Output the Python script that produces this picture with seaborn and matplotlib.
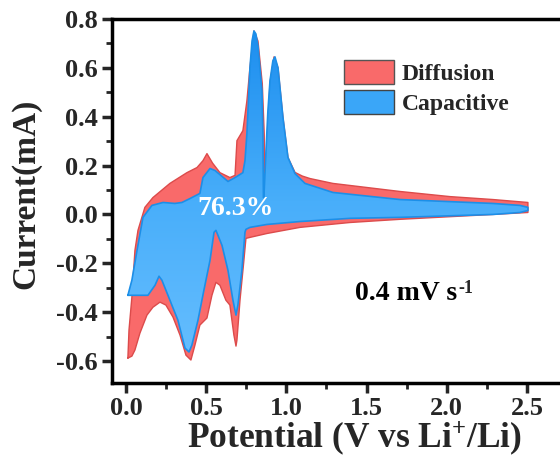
import numpy as np
import matplotlib
matplotlib.use("Agg")
import matplotlib.pyplot as plt
import seaborn as sns
from matplotlib.patches import Patch
from matplotlib.colors import LinearSegmentedColormap
from matplotlib.ticker import AutoMinorLocator, FormatStrFormatter

# ---- total CV (outer, "Diffusion" area) : anodic branch 0.01 -> 2.5 V
tot_up_v = [0.012, 0.019, 0.037, 0.056, 0.075, 0.118, 0.168, 0.274, 0.380, 0.443, 0.480, 0.505,
            0.540, 0.586, 0.648, 0.680, 0.692, 0.729, 0.754, 0.773, 0.798, 0.823, 0.850, 0.862,
            0.867, 0.879, 0.898, 0.923, 0.948, 0.979, 1.010, 1.054, 1.100, 1.147, 1.290, 1.708,
            2.020, 2.288, 2.506]
tot_up_i = [-0.588, -0.473, -0.339, -0.147, -0.065, 0.029, 0.069, 0.127, 0.171, 0.192, 0.220, 0.249,
            0.210, 0.171, 0.151, 0.160, 0.302, 0.343, 0.465, 0.600, 0.751, 0.710, 0.535, 0.330,
            0.100, 0.302, 0.540, 0.645, 0.600, 0.396, 0.233, 0.172, 0.157, 0.147, 0.127, 0.094,
            0.073, 0.061, 0.049]
# cathodic branch 2.5 -> 0.01 V
tot_dn_v = [2.506, 2.288, 1.708, 1.397, 1.085, 0.879, 0.773, 0.748, 0.735, 0.711, 0.692, 0.686,
            0.673, 0.648, 0.623, 0.586, 0.561, 0.536, 0.505, 0.461, 0.430, 0.405, 0.374, 0.337,
            0.293, 0.249, 0.212, 0.168, 0.131, 0.087, 0.056, 0.037, 0.012]
tot_dn_i = [0.008, 0.000, -0.020, -0.033, -0.053, -0.078, -0.094, -0.098, -0.190, -0.351, -0.514, -0.539,
            -0.494, -0.371, -0.351, -0.290, -0.278, -0.331, -0.424, -0.453, -0.535, -0.596, -0.576, -0.494,
            -0.420, -0.371, -0.359, -0.380, -0.412, -0.486, -0.555, -0.580, -0.588]

# ---- capacitive contribution (inner, blue)
cap_up_v = [0.012, 0.037, 0.069, 0.106, 0.162, 0.231, 0.305, 0.349, 0.399, 0.461, 0.480, 0.524,
            0.555, 0.586, 0.636, 0.680, 0.729, 0.742, 0.754, 0.773, 0.786, 0.798, 0.810, 0.823,
            0.848, 0.854, 0.857, 0.860, 0.873, 0.885, 0.898, 0.916, 0.929, 0.948, 0.979, 1.010,
            1.054, 1.116, 1.290, 1.708, 2.288, 2.456, 2.506]
cap_up_i = [-0.331, -0.269, -0.147, -0.012, 0.037, 0.049, 0.045, 0.049, 0.065, 0.086, 0.151, 0.188,
            0.180, 0.163, 0.135, 0.151, 0.171, 0.220, 0.331, 0.600, 0.710, 0.751, 0.739, 0.690,
            0.506, 0.331, 0.069, 0.069, 0.261, 0.424, 0.547, 0.629, 0.645, 0.600, 0.396, 0.233,
            0.167, 0.127, 0.090, 0.061, 0.045, 0.037, 0.029]
cap_dn_v = [2.506, 2.456, 2.288, 1.708, 1.397, 1.085, 0.879, 0.773, 0.748, 0.742, 0.723, 0.698,
            0.686, 0.667, 0.636, 0.599, 0.561, 0.549, 0.524, 0.486, 0.449, 0.411, 0.393, 0.368,
            0.324, 0.274, 0.224, 0.206, 0.181, 0.137, 0.012]
cap_dn_i = [0.016, 0.008, 0.000, -0.012, -0.016, -0.029, -0.041, -0.053, -0.061, -0.073, -0.229, -0.371,
            -0.412, -0.351, -0.229, -0.127, -0.065, -0.073, -0.188, -0.310, -0.433, -0.535, -0.563, -0.547,
            -0.433, -0.351, -0.269, -0.253, -0.290, -0.331, -0.331]

labels = ["Diffusion", "Capacitive"]
x_ticks = [0.0, 0.5, 1.0, 1.5, 2.0, 2.5]
y_ticks = [-0.6, -0.4, -0.2, 0.0, 0.2, 0.4, 0.6, 0.8]
ratio_text = "76.3%"
rate_text = "0.4 mV s"
rate_sup = "-1"

RED = "#F96A6A"
RED_EDGE = "#DC4B4B"
BLUE_EDGE = "#1C8FE8"
SERIF = ['Liberation Serif', 'DejaVu Serif']

sns.set_style("ticks")
plt.rcParams['font.family'] = SERIF
plt.rcParams['font.weight'] = 'bold'
plt.rcParams['axes.unicode_minus'] = False
plt.rcParams['mathtext.fontset'] = 'custom'
plt.rcParams['mathtext.rm'] = 'Liberation Serif:bold'
plt.rcParams['mathtext.bf'] = 'Liberation Serif:bold'
plt.rcParams['mathtext.it'] = 'Liberation Serif:bold'
plt.rcParams['mathtext.default'] = 'rm'

fig = plt.figure(figsize=(5.6, 4.68), dpi=100)
ax = fig.add_axes([112 / 560, 85 / 468, 448 / 560, 364 / 468])

xmin, xmax, ymin, ymax = -0.087, 2.706, -0.69, 0.80

# Diffusion (total) area
red_v = tot_up_v + tot_dn_v
red_i = tot_up_i + tot_dn_i
ax.fill(red_v, red_i, facecolor=RED, edgecolor="none", zorder=2)
sns.lineplot(x=red_v, y=red_i, sort=False, estimator=None, color=RED_EDGE, lw=1.0, ax=ax, zorder=2.5)

# Capacitive area with vertical gradient
cap_v = cap_up_v + cap_dn_v
cap_i = cap_up_i + cap_dn_i
poly = ax.fill(cap_v, cap_i, facecolor="none", edgecolor="none", zorder=3)[0]
cmap = LinearSegmentedColormap.from_list("capgrad", ["#1A8CEE", "#48AEFA", "#6AC0FF"])
grad = np.linspace(0, 1, 256).reshape(-1, 1)
im = ax.imshow(grad, extent=[xmin, xmax, ymin, ymax], origin="upper", aspect="auto",
               cmap=cmap, zorder=3, interpolation="bicubic")
im.set_clip_path(poly)
sns.lineplot(x=cap_v, y=cap_i, sort=False, estimator=None, color=BLUE_EDGE, lw=1.2, ax=ax, zorder=4)

ax.set_xlim(xmin, xmax)
ax.set_ylim(ymin, ymax)

ax.text(0.685, 0.025, ratio_text, color="white", fontsize=20, fontweight="bold",
        family=SERIF, ha="center", va="center", zorder=6)
t_rate = ax.text(1.43, -0.35, rate_text, color="black", fontsize=20, fontweight="bold",
                 family=SERIF, ha="left", va="baseline", zorder=6)
ax.annotate(rate_sup, xy=(1.0, 1.0), xycoords=t_rate, xytext=(1, 1), textcoords="offset points",
            fontsize=13, fontweight="bold", family=SERIF, ha="left", va="top", zorder=6)

handles = [Patch(facecolor=RED, edgecolor="#555555", lw=1.0),
           Patch(facecolor="#3AA6F8", edgecolor="#444444", lw=1.0)]
ax.legend(handles, labels, loc="upper left", bbox_to_anchor=(0.518, 0.888), frameon=False,
          prop={"size": 17, "weight": "bold", "family": SERIF}, handlelength=2.1, handleheight=1.2,
          handletextpad=0.35, labelspacing=0.2, borderpad=0, borderaxespad=0)

ax.set_xticks(x_ticks)
ax.set_yticks(y_ticks)
ax.xaxis.set_major_formatter(FormatStrFormatter("%.1f"))
ax.yaxis.set_major_formatter(FormatStrFormatter("%.1f"))
ax.xaxis.set_minor_locator(AutoMinorLocator(2))
ax.yaxis.set_minor_locator(AutoMinorLocator(2))
ax.tick_params(which="major", direction="out", length=7, width=2.5, labelsize=19, pad=3,
               top=False, right=False)
ax.tick_params(which="minor", direction="out", length=4, width=2.0, top=False, right=False)
for lab in ax.get_xticklabels() + ax.get_yticklabels():
    lab.set_fontweight("bold")
    lab.set_family(SERIF)

for side in ["left", "bottom", "top"]:
    ax.spines[side].set_linewidth(2.5)
    ax.spines[side].set_color("black")
ax.spines["right"].set_visible(False)

ax.set_xlabel("Potential (V vs Li$^{+}$/Li)", fontsize=25.5, fontweight="bold", family=SERIF)
ax.set_ylabel("Current(mA)", fontsize=24, fontweight="bold", family=SERIF)
ax.xaxis.set_label_coords((355 - 112) / 448, -0.1)
ax.yaxis.set_label_coords(-0.158, 0.52)

fig.savefig("out.png", dpi=100)
